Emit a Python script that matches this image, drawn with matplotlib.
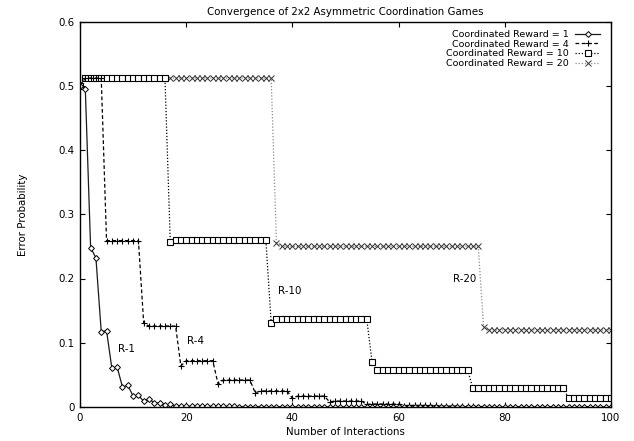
import matplotlib
matplotlib.use("Agg")
import matplotlib.pyplot as plt

plt.rcParams['font.family'] = ['DejaVu Sans']

interactions = list(range(0, 101))

# Coordinated Reward = 1
r1 = [0.500, 0.495, 0.248, 0.232, 0.117, 0.119, 0.060, 0.062, 0.031, 0.034,
      0.017, 0.018, 0.009, 0.013, 0.006, 0.0065, 0.003, 0.004, 0.002, 0.002,
      0.001, 0.001, 0.001, 0.001, 0.001, 0.001, 0.001, 0.001, 0.001, 0.001,
      0.0005, 0.0005, 0.0005, 0.0005, 0.0005, 0.0005, 0.0005, 0.0005, 0.0005, 0.0005,
      0.0, 0.0, 0.0, 0.0, 0.0, 0.0, 0.0, 0.0, 0.0, 0.0,
      0.0, 0.0, 0.0, 0.0, 0.0, 0.0, 0.0, 0.0, 0.0, 0.0,
      0.0, 0.0, 0.0, 0.0, 0.0, 0.0, 0.0, 0.0, 0.0, 0.0,
      0.0, 0.0, 0.0, 0.0, 0.0, 0.0, 0.0, 0.0, 0.0, 0.0,
      0.0, 0.0, 0.0, 0.0, 0.0, 0.0, 0.0, 0.0, 0.0, 0.0,
      0.0, 0.0, 0.0, 0.0, 0.0, 0.0, 0.0, 0.0, 0.0, 0.0,
      0.0]

# Coordinated Reward = 4
r4 = [0.500, 0.512, 0.512, 0.512, 0.512,
      0.259, 0.259, 0.259, 0.259, 0.259, 0.259, 0.259,
      0.130, 0.126, 0.126, 0.126, 0.126, 0.126, 0.126,
      0.064, 0.072, 0.072, 0.072, 0.072, 0.072, 0.072,
      0.036, 0.042, 0.042, 0.042, 0.042, 0.042, 0.042,
      0.022, 0.025, 0.025, 0.025, 0.025, 0.025, 0.025,
      0.0135, 0.017, 0.017, 0.017, 0.017, 0.017, 0.017,
      0.008, 0.0093, 0.0093, 0.0093, 0.0093, 0.0093, 0.0093,
      0.004, 0.0047, 0.0047, 0.0047, 0.0047, 0.0047, 0.0047,
      0.002, 0.0025, 0.0025, 0.0025, 0.0025, 0.0025, 0.0025,
      0.001, 0.0013, 0.0013, 0.0013, 0.0013, 0.0013, 0.0013,
      0.0007, 0.0007, 0.0007, 0.0007, 0.0007, 0.0007, 0.0007,
      0.0004, 0.0004, 0.0004, 0.0004, 0.0004, 0.0004, 0.0004,
      0.0002, 0.0002, 0.0002, 0.0002, 0.0002, 0.0002, 0.0002,
      0.0001, 0.0001, 0.0001, 0.0001, 0.0001]

# Coordinated Reward = 10
r10 = [0.500,
       0.512, 0.512, 0.512, 0.512, 0.512, 0.512, 0.512, 0.512,
       0.512, 0.512, 0.512, 0.512, 0.512, 0.512, 0.512, 0.512,
       0.257, 0.260, 0.260, 0.260, 0.260, 0.260, 0.260, 0.260, 0.260, 0.260,
       0.260, 0.260, 0.260, 0.260, 0.260, 0.260, 0.260, 0.260, 0.260,
       0.131, 0.137, 0.137, 0.137, 0.137, 0.137, 0.137, 0.137, 0.137, 0.137,
       0.137, 0.137, 0.137, 0.137, 0.137, 0.137, 0.137, 0.137, 0.137,
       0.070, 0.0576, 0.0576, 0.0576, 0.0576, 0.0576, 0.0576, 0.0576, 0.0576, 0.0576,
       0.0576, 0.0576, 0.0576, 0.0576, 0.0576, 0.0576, 0.0576, 0.0576, 0.0576,
       0.029, 0.029, 0.029, 0.029, 0.029, 0.029, 0.029, 0.029, 0.029,
       0.029, 0.029, 0.029, 0.029, 0.029, 0.029, 0.029, 0.029, 0.029,
       0.0145, 0.0145, 0.0145, 0.0145, 0.0145, 0.0145, 0.0145, 0.0145, 0.0145]

# Coordinated Reward = 20
r20 = [0.500,
       0.512, 0.512, 0.512, 0.512, 0.512, 0.512, 0.512, 0.512, 0.512,
       0.512, 0.512, 0.512, 0.512, 0.512, 0.512, 0.512, 0.512, 0.512,
       0.512, 0.512, 0.512, 0.512, 0.512, 0.512, 0.512, 0.512, 0.512,
       0.512, 0.512, 0.512, 0.512, 0.512, 0.512, 0.512, 0.512, 0.512,
       0.256, 0.250, 0.250, 0.250, 0.250, 0.250, 0.250, 0.250, 0.250, 0.250,
       0.250, 0.250, 0.250, 0.250, 0.250, 0.250, 0.250, 0.250, 0.250, 0.250,
       0.250, 0.250, 0.250, 0.250, 0.250, 0.250, 0.250, 0.250, 0.250, 0.250,
       0.250, 0.250, 0.250, 0.250, 0.250, 0.250, 0.250, 0.250, 0.250,
       0.125, 0.120, 0.120, 0.120, 0.120, 0.120, 0.120, 0.120, 0.120,
       0.120, 0.120, 0.120, 0.120, 0.120, 0.120, 0.120, 0.120,
       0.120, 0.120, 0.120, 0.120, 0.120, 0.120, 0.120, 0.120]

labels = ["Coordinated Reward = 1", "Coordinated Reward = 4",
          "Coordinated Reward = 10", "Coordinated Reward = 20"]
curve_tags = ["R-1", "R-4", "R-10", "R-20"]
tag_pos = [(8.8, 0.090), (21.8, 0.102), (39.4, 0.181), (72.4, 0.200)]
xticks = [0, 20, 40, 60, 80, 100]
yticks = [0, 0.1, 0.2, 0.3, 0.4, 0.5, 0.6]

FS = 7.4
LFS = 6.8

fig = plt.figure(figsize=(6.34, 4.41), dpi=100)
ax = fig.add_axes([80/634, 1 - 407/441, (611-80)/634, (407-21.5)/441])

ax.plot(interactions, r20, linestyle=(0, (1, 1.5)), color='0.55', lw=0.9,
        marker='x', ms=4.4, mec='0.2', mew=0.7, label=labels[3])
ax.plot(interactions, r10, linestyle=(0, (1, 1.5)), color='black', lw=0.9,
        marker='s', ms=3.9, mfc='white', mec='black', mew=0.8, label=labels[2])
ax.plot(interactions, r4, linestyle=(0, (3, 2)), color='black', lw=0.9,
        marker='+', ms=4.6, mec='black', mew=0.8, label=labels[1])
ax.plot(interactions, r1, linestyle='-', color='0.1', lw=0.9,
        marker='D', ms=3.0, mfc='white', mec='black', mew=0.7, label=labels[0])

for tag, (tx, ty) in zip(curve_tags, tag_pos):
    ax.text(tx, ty, tag, fontsize=FS, ha='center', va='center')

ax.set_xlim(0, 100)
ax.set_ylim(0, 0.6)
ax.set_xticks(xticks)
ax.set_yticks(yticks)
ax.set_xticklabels([str(v) for v in xticks])
ax.set_yticklabels(["0", "0.1", "0.2", "0.3", "0.4", "0.5", "0.6"])
ax.tick_params(direction='in', length=3.5, width=0.8, top=True, right=True,
               labelsize=FS, pad=4)
for s in ax.spines.values():
    s.set_linewidth(1.0)

ax.set_title("Convergence of 2x2 Asymmetric Coordination Games", fontsize=FS, pad=5)
ax.set_xlabel("Number of Interactions", fontsize=FS, labelpad=3)
ax.set_ylabel("Error Probability", fontsize=FS, labelpad=22)

handles, labs = ax.get_legend_handles_labels()
order = [3, 2, 1, 0]
leg = ax.legend([handles[i] for i in order], [labs[i] for i in order],
                loc='upper right', bbox_to_anchor=(0.979, 0.978),
                frameon=False, markerfirst=False, fontsize=LFS,
                handlelength=2.6, handletextpad=0.7, labelspacing=0.08,
                borderpad=0, borderaxespad=0)

fig.savefig("out.png", dpi=100)
